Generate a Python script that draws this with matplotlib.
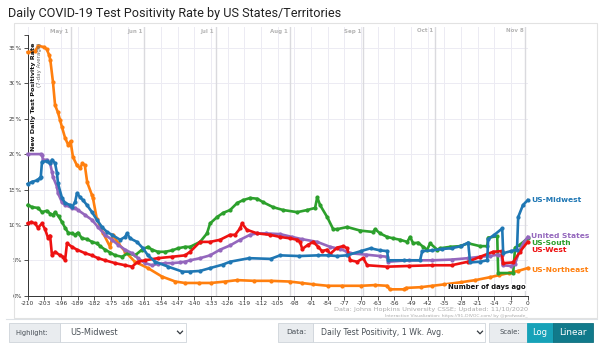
import matplotlib
matplotlib.use("Agg")
import matplotlib.pyplot as plt
from matplotlib.patches import Rectangle
from matplotlib.lines import Line2D

plt.rcParams["axes.unicode_minus"] = False
plt.rcParams["font.family"] = ["DejaVu Sans"]

# ---------------- data (days before latest report, positivity %) ----------------
northeast_days = [-210, -207, -205.5, -203, -202, -201, -200.5, -199.4, -198.5, -197.3, -196.4,
                  -195.6, -194.3, -193, -192, -191, -189.3, -188, -187, -186, -185, -183, -182.6,
                  -181, -178.4, -175.4, -174.2, -172, -169, -165, -159.5, -153.6, -148, -144,
                  -138, -133, -127, -122, -115, -108, -100, -95, -90, -84, -78, -70, -64, -59,
                  -58, -52, -51, -45, -40, -35, -28, -22, -16, -12, -8, -4, 0]
northeast_vals = [34.4, 34.5, 35.3, 35.1, 34.8, 34.0, 33.3, 30.2, 26.9, 25.9, 24.8,
                  23.8, 22.3, 21.3, 21.8, 19.6, 18.4, 18.0, 18.7, 18.4, 16.0, 14.2, 13.8,
                  10.9, 8.9, 6.9, 8.6, 7.4, 6.2, 4.8, 3.9, 2.7, 2.0, 1.8,
                  1.8, 1.8, 2.0, 2.2, 2.1, 2.1, 2.0, 1.8, 1.6, 1.4, 1.4, 1.4, 1.5, 1.4,
                  0.9, 0.9, 1.1, 1.2, 1.4, 1.6, 1.9, 2.2, 2.6, 2.9, 3.2, 3.5, 3.9]

midwest_days = [-210, -208, -206, -205, -204.5, -204, -202, -200.6, -199.8, -198.5, -197.7,
                -197.3, -195.6, -194.3, -192.2, -191.4, -190.1, -189.3, -188, -186.8, -185.1,
                -183, -180.9, -178.8, -176.7, -174.6, -171.2, -169.1, -168.3, -167, -164.1,
                -161.6, -159.5, -156.5, -151, -145, -142, -137.6, -133.4, -128, -125, -117,
                -108, -104, -96, -88, -84, -80, -76, -70, -66, -62, -59, -58.6, -52, -45.2,
                -44.3, -40, -36, -32, -28, -25, -24.2, -20, -17, -16.6, -14, -10.7, -10.3,
                -7, -4.5, -4, -2, 0]
midwest_vals = [15.8, 16.1, 16.3, 16.6, 16.8, 18.9, 19.0, 18.7, 19.2, 18.7, 17.3,
                15.9, 13.8, 13.1, 12.8, 12.5, 13.2, 14.5, 13.9, 13.5, 12.8,
                11.8, 10.7, 9.7, 9.0, 8.6, 7.9, 8.3, 8.8, 8.1, 7.6,
                6.7, 5.7, 4.8, 4.1, 3.4, 3.4, 3.5, 3.9, 4.4, 4.8, 5.3,
                5.2, 5.7, 5.6, 5.7, 5.7, 5.6, 5.7, 6.3, 6.7, 6.4, 6.3, 5.0, 5.0, 5.0,
                6.3, 6.4, 6.6, 6.7, 7.0, 7.5, 4.7, 4.8, 5.0, 8.0, 8.6, 9.5, 6.0,
                6.3, 6.5, 11.1, 12.8, 13.5]

us_days = [-210, -204.5, -204, -203.6, -201.9, -200.6, -199.8, -199.4, -197.7, -197.3, -195.6,
           -194.3, -191.4, -190, -188.9, -185.9, -183, -180.5, -177.5, -174.6, -172.1, -169.1,
           -166.2, -163.7, -160.7, -157.8, -155.3, -152.3, -149.4, -146, -143.9, -141.8,
           -137.6, -133.4, -129.2, -125, -120.8, -116.6, -113.6, -110, -104, -99, -95, -88.4,
           -83, -78.8, -75.8, -74.6, -68, -62, -59, -58.6, -50, -40, -32, -25, -20, -16,
           -12.4, -11, -10.5, -7, -5.3, -3.3, -1.5, 0]
us_vals = [20.0, 20.0, 19.9, 19.2, 19.2, 18.7, 17.5, 16.8, 15.4, 14.5, 13.2,
           12.8, 12.4, 12.4, 12.1, 11.4, 10.7, 9.7, 8.6, 7.9, 7.2, 6.5,
           6.0, 5.3, 4.6, 4.3, 4.5, 4.6, 4.6, 4.7, 4.8, 5.0,
           5.3, 5.7, 6.5, 7.1, 7.9, 8.6, 8.8, 8.8, 8.7, 8.3, 8.0, 7.6,
           6.9, 6.6, 6.2, 6.0, 5.8, 5.6, 5.5, 4.8, 5.0, 5.0, 5.1, 5.3, 5.5, 5.6,
           5.8, 5.7, 4.3, 4.2, 4.5, 6.5, 7.6, 8.3]

south_days = [-210, -208, -205.7, -204, -202, -200.6, -199.4, -198.5, -197, -195.6, -194.3,
              -193, -191.4, -190.1, -188.9, -187.2, -185.1, -183, -181, -179.6, -177.5,
              -175.4, -173.3, -170.4, -167.9, -164.9, -162, -159.5, -157.8, -155.3, -152.3,
              -149.4, -146.8, -143.9, -141.8, -137.6, -134.7, -133.4, -130.5, -127.9, -125,
              -122, -119.5, -116.6, -113.6, -111.1, -106.9, -102.7, -96.8, -92.6, -89.3,
              -88.4, -87.2, -84.2, -81.7, -80, -75.8, -70.4, -64.9, -64.1, -62, -59, -56.5,
              -53.6, -50.6, -49.4, -48.1, -46, -43.9, -42.2, -41, -38, -36.8, -32.6, -28.4,
              -25, -20, -17, -16.6, -12.8, -12.4, -6.1, -5.3, -3.3, 0]
south_vals = [12.8, 12.5, 12.4, 11.8, 12.0, 11.6, 11.4, 11.8, 11.2, 10.4, 9.6,
              8.9, 8.8, 8.6, 8.9, 8.1, 8.0, 7.6, 7.4, 7.0, 6.5,
              6.1, 5.7, 5.5, 6.0, 5.7, 6.5, 6.9, 6.5, 6.2, 6.2,
              6.4, 6.7, 6.9, 6.9, 7.6, 8.8, 10.2, 11.1, 11.7, 12.1,
              13.1, 13.5, 13.8, 13.7, 13.2, 12.5, 12.1, 11.8, 12.1, 12.4,
              13.9, 12.8, 11.1, 9.4, 9.4, 9.7, 9.2, 9.0, 9.4, 8.8, 8.3, 8.1,
              7.9, 7.6, 8.3, 7.4, 7.5, 6.9, 6.5, 7.4, 6.5, 6.7, 6.9, 7.0,
              7.4, 7.0, 7.0, 8.2, 8.4, 3.2, 3.2, 6.8, 7.2, 8.1]

west_days = [-210, -208.5, -206.9, -205.7, -204, -202.7, -201.5, -200.6, -199.8, -198.5, -196.4,
             -195.2, -194.3, -193.5, -191.4, -189.3, -185.9, -183, -180.5, -177.5, -173.3,
             -169.1, -166.2, -163.7, -160.7, -155.3, -149.4, -143.9, -141.8, -137.6, -133.4,
             -129.2, -125, -122.9, -120.8, -120, -117.9, -113.6, -108.2, -104, -99.8, -96.8,
             -95.6, -94.7, -92.2, -90.1, -88, -86.4, -84.2, -83, -80, -77.5, -75.8, -74.6,
             -71.6, -69.1, -67.4, -59, -50, -40, -32, -25, -20, -14.5, -11, -10.3, -6.1,
             -3.3, 0]
west_vals = [10.2, 10.4, 10.2, 9.6, 10.2, 9.4, 8.2, 8.5, 5.7, 6.2, 5.7,
             5.5, 5.0, 7.4, 6.9, 6.5, 6.0, 5.7, 5.3, 5.0, 4.6,
             4.3, 4.1, 4.8, 5.0, 5.3, 5.5, 5.7, 6.2, 7.6, 7.6,
             7.9, 8.6, 8.6, 9.5, 10.2, 9.3, 8.8, 8.6, 8.3, 8.1, 7.9,
             7.6, 6.6, 7.2, 7.6, 6.9, 6.3, 6.5, 5.9, 6.8, 7.0, 6.7, 5.0,
             4.8, 5.3, 4.3, 4.1, 4.2, 4.3, 4.3, 4.8, 5.5, 6.2, 6.3, 4.6, 4.7,
             6.2, 7.6]

series_names = ["US-Northeast", "US-South", "United States", "US-West", "US-Midwest"]
series_days = [northeast_days, south_days, us_days, west_days, midwest_days]
series_vals = [northeast_vals, south_vals, us_vals, west_vals, midwest_vals]
series_colors = ["#ff7f0e", "#2ca02c", "#9467bd", "#ee1111", "#1f77b4"]
label_y = {"US-Midwest": 13.5, "United States": 8.5, "US-South": 7.5,
           "US-West": 6.5, "US-Northeast": 3.6}

x_ticks = list(range(-210, 1, 7))
y_ticks = list(range(0, 36, 5))
month_days = [-192, -161, -131, -100, -69, -39, -1]
month_names = ["May 1", "Jun 1", "Jul 1", "Aug 1", "Sep 1", "Oct 1", "Nov 8"]

# ---------------- figure ----------------
W, H = 600, 346
fig = plt.figure(figsize=(W / 100, H / 100), dpi=100)
fig.patch.set_facecolor("white")
renderer = fig.canvas.get_renderer()


def fx(x):
    return x / W


def fy(y):
    return 1 - y / H


def fit_width(t, width):
    bb = t.get_window_extent(renderer)
    t.set_fontsize(t.get_fontsize() * width / bb.width)


def fit_height(t, height):
    bb = t.get_window_extent(renderer)
    t.set_fontsize(t.get_fontsize() * height / bb.height)


# title
t = fig.text(fx(8), fy(13), "Daily COVID-19 Test Positivity Rate by US States/Territories",
             ha="left", va="center", fontsize=11, color="#222222", family="Roboto")
fit_width(t, 330)

# chart panel border
fig.patches.append(Rectangle((fx(14), fy(318)), (597 - 14) / W, (318 - 23) / H,
                             transform=fig.transFigure, fill=False, edgecolor="#e2e2e2",
                             linewidth=0.8, zorder=0))

# plot area
PX_PER_PCT = 7.08
y0_px, top_px = 295.7, 27
ax = fig.add_axes([fx(27.7), fy(y0_px), 500 / W, (y0_px - top_px) / H])
ax.set_facecolor("white")
ax.set_xlim(-210, 0)
ytop = (y0_px - top_px) / PX_PER_PCT
ax.set_ylim(0, ytop)

for d in x_ticks:
    ax.axvline(d, color="#ecebf3", lw=0.7, zorder=0)
for v in y_ticks[1:]:
    ax.axhline(v, color="#ecebf3", lw=0.7, zorder=0)
for d, name in zip(month_days, month_names):
    ax.axvline(d, color="#dadade", lw=1.0, zorder=0.5)
    ax.text(d - 0.8, ytop - 4 / PX_PER_PCT, name, ha="right", va="center",
            fontsize=4.0, fontweight="bold", color="#b4b4b4")

for s in ["top", "right"]:
    ax.spines[s].set_visible(False)
ax.spines["left"].set_bounds(0, 36.8)
for s in ["left", "bottom"]:
    ax.spines[s].set_color("#333333")
    ax.spines[s].set_linewidth(0.7)

ax.set_xticks(x_ticks)
ax.set_xticklabels([str(v) for v in x_ticks])
ax.set_yticks(y_ticks)
ax.set_yticklabels([f"{v}%" for v in y_ticks])
ax.set_yticks([36.8], minor=True)
ax.tick_params(which="both", length=2.9, width=0.6, pad=1.2, colors="#333333",
               labelsize=4.2)

for name, d, v, c in zip(series_names, series_days, series_vals, series_colors):
    ax.plot(d, v, color=c, lw=1.9, marker="o", ms=2.0, solid_joinstyle="round",
            zorder=3 if name != "US-Midwest" else 4, clip_on=False)
    ax.annotate(name, xy=(1, label_y[name]), xycoords=("axes fraction", "data"),
                xytext=(2.5, 0), textcoords="offset points", ha="left", va="center",
                fontsize=5.4, fontweight="bold", color=c, annotation_clip=False)

# axis titles
yl = fig.text(fx(33), fy(43), "New Daily Test Positivity Rate", rotation=90, ha="center",
              va="top", fontsize=6, fontweight="bold", color="#111111", zorder=5)
fit_height(yl, 109)
ys = fig.text(fx(39.5), fy(43), "(7-day Average)", rotation=90, ha="center", va="top",
              fontsize=4, color="#666666", zorder=5)
fit_height(ys, 44)
xl = ax.text(0.995, 0.02, "Number of days ago", transform=ax.transAxes, ha="right",
             va="bottom", fontsize=6, fontweight="bold", color="#111111", zorder=6,
             bbox=dict(facecolor="white", edgecolor="none", pad=0.6))
fit_width(xl, 78)

src = fig.text(fx(528), fy(310), "Data: Johns Hopkins University CSSE; Updated: 11/10/2020",
               ha="right", va="center", fontsize=5, color="#aaaaaa")
fit_width(src, 193)
viz = fig.text(fx(528), fy(316), "Interactive Visualization: https://91-DIVOC.com/ by @profwade_",
               ha="right", va="center", fontsize=3, color="#aaaaaa")
fit_width(viz, 141)

# control bar
fig.add_artist(Line2D([fx(6), fx(597)], [fy(318.5), fy(318.5)], color="#dee2e6", lw=0.8))


def box(x0, x1, y0, y1, face, edge="#ced4da"):
    fig.patches.append(Rectangle((fx(x0), fy(y1)), (x1 - x0) / W, (y1 - y0) / H,
                                 transform=fig.transFigure, facecolor=face,
                                 edgecolor=edge, linewidth=0.6, zorder=1))


def chevron(xc, yc):
    fig.add_artist(Line2D([fx(xc - 2.5), fx(xc), fx(xc + 2.5)],
                          [fy(yc - 1.3), fy(yc + 1.3), fy(yc - 1.3)],
                          color="#343a40", lw=0.9))


by0, by1 = 322.7, 342.3
bym = (by0 + by1) / 2
box(9, 60, by0, by1, "#e9ecef")
box(60, 186, by0, by1, "white")
t = fig.text(fx(15), fy(bym), "Highlight:", ha="left", va="center", fontsize=6, color="#495057")
fit_width(t, 33)
t = fig.text(fx(70), fy(bym), "US-Midwest", ha="left", va="center", fontsize=6, color="#495057")
fit_width(t, 48)
chevron(180, bym)

box(278, 313, by0, by1, "#e9ecef")
box(313, 485, by0, by1, "white")
t = fig.text(fx(286), fy(bym), "Data:", ha="left", va="center", fontsize=6, color="#495057")
fit_width(t, 20)
t = fig.text(fx(321), fy(bym), "Daily Test Positivity, 1 Wk. Avg.", ha="left", va="center",
             fontsize=6, color="#495057")
fit_width(t, 124)
chevron(480, bym)

box(489, 527, by0, by1, "#e9ecef")
box(527, 553, by0, by1, "#17a2b8", edge="#17a2b8")
box(553, 593, by0, by1, "#117a8b", edge="#10707f")
t = fig.text(fx(499), fy(bym), "Scale:", ha="left", va="center", fontsize=6, color="#495057")
fit_width(t, 21)
t = fig.text(fx(540), fy(bym), "Log", ha="center", va="center", fontsize=6, color="white")
fit_width(t, 15)
t = fig.text(fx(573), fy(bym), "Linear", ha="center", va="center", fontsize=6, color="white")
fit_width(t, 28)

fig.savefig("out.png", dpi=100, facecolor="white")
